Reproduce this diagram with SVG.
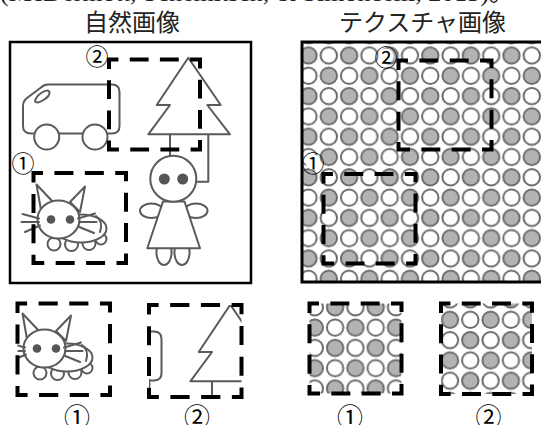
<svg xmlns="http://www.w3.org/2000/svg" xmlns:xlink="http://www.w3.org/1999/xlink" width="541" height="425" viewBox="0 0 541 425">
  <style>
    .frame{fill:#fff;stroke:#000;stroke-width:2.5}
    .art{fill:#fff;stroke:#5a5a5a;stroke-width:2;stroke-linejoin:round;stroke-linecap:round}
    .line{fill:none;stroke:#5a5a5a;stroke-width:2;stroke-linejoin:round;stroke-linecap:round}
    .eye{fill:#555;stroke:none}
    .crop{fill:none;stroke:#000;stroke-width:4;stroke-dasharray:20 12;stroke-dashoffset:10}
    .dg{fill:#b3b3b3;stroke:#6b6b6b;stroke-width:2}
    .dw{fill:#fff;stroke:#6b6b6b;stroke-width:2}
    .title{font-family:"Noto Sans CJK JP","Noto Sans CJK SC",sans-serif;font-size:24px;fill:#222;text-anchor:middle}
    .cite{font-family:"Liberation Serif","Noto Sans CJK JP",serif;font-size:26px;fill:#222}
    .num{font-family:"Noto Sans CJK JP","Noto Sans CJK SC",sans-serif;text-anchor:middle;dominant-baseline:central;fill:#000}
    .badge{fill:#fff;stroke:none}
  </style>
  <defs>
    <!-- checkerboard of grey and white dots, 2x2 cells per tile -->
    <pattern id="dots" patternUnits="userSpaceOnUse" x="298.35" y="45.35" width="40.6" height="40.6">
      <circle cx="10.15" cy="10.15" r="8.2" class="dg"/>
      <circle cx="30.45" cy="10.15" r="8.2" class="dw"/>
      <circle cx="10.15" cy="30.45" r="8.2" class="dw"/>
      <circle cx="30.45" cy="30.45" r="8.2" class="dg"/>
    </pattern>
    <pattern id="dots-1" href="#dots" xlink:href="#dots" x="284.35" y="175.35"/>
    <pattern id="dots-2" href="#dots" xlink:href="#dots" x="338.35" y="289.35"/>

    <clipPath id="clip-n1"><rect x="17.5" y="303.5" width="92.5" height="91.5"/></clipPath>
    <clipPath id="clip-n2"><rect x="149" y="305" width="92.5" height="92"/></clipPath>
    <clipPath id="clip-tex"><rect x="302" y="42" width="250" height="240"/></clipPath>

    <!-- line drawings of the natural scene -->
    <g id="van-art">
      <path class="art" d="M23 126 L23 106 Q23 101 27 98 L41 87.5 Q44 84.5 48 84.5 L112 84.5 Q119.5 84.5 119.5 92 L119.5 126 Q119.5 133.5 112 133.5 L31 133.5 Q23 133.5 23 126 Z"/>
      <path class="art" d="M35 101.5 Q36 96 42 92.5 Q48 89 49.5 92 Q50 96 43.5 100 Q37 104 35 101.5 Z"/>
      <circle class="art" cx="46.7" cy="137" r="12.5"/>
      <circle class="art" cx="95" cy="137" r="12.5"/>
    </g>
    <g id="tree-art">
      <line class="line" x1="170" y1="134.3" x2="170" y2="156"/>
      <polyline class="line" points="208.3,134.3 208.3,181.7 196.5,181.7"/>
      <polygon class="art" points="188.3,57.7 220.7,105 207.3,105 230,134.3 148.3,134.3 170,105 156.7,105"/>
    </g>
    <g id="girl-art">
      <ellipse class="art" cx="164" cy="252" rx="7.6" ry="13"/>
      <ellipse class="art" cx="182" cy="252" rx="7.6" ry="13"/>
      <ellipse class="art" cx="151.5" cy="210.8" rx="11.5" ry="7.3"/>
      <ellipse class="art" cx="196" cy="210.8" rx="11.5" ry="7.3"/>
      <polygon class="art" points="163,201.5 184.5,201.5 200,248.3 147.3,248.3"/>
      <circle class="art" cx="173.3" cy="178.7" r="23"/>
      <circle class="eye" cx="164.3" cy="179" r="5.5"/>
      <circle class="eye" cx="182.7" cy="179" r="5.5"/>
    </g>
    <g id="cat-art">
      <circle class="art" cx="54" cy="244" r="6.5"/>
      <circle class="art" cx="71.5" cy="244.5" r="6.5"/>
      <circle class="art" cx="89" cy="243.5" r="6.5"/>
      <circle class="art" cx="101" cy="239" r="5.5"/>
      <ellipse class="art" cx="81" cy="228.5" rx="25.5" ry="14"/>
      <path class="line" d="M96 216 Q103.5 221 100 232"/>
      <polygon class="art" points="41,210 36.5,184.5 54,203"/>
      <polygon class="art" points="70,202 85,186.5 80,212"/>
      <ellipse class="art" cx="58.5" cy="219.5" rx="21" ry="19"/>
      <circle class="eye" cx="51" cy="219.5" r="4.3"/>
      <circle class="eye" cx="70" cy="219.5" r="4.3"/>
      <path class="line" d="M22.5 214 L39 218.5 M21.5 222 L39 222 M25 232 L40 225.5 M78 218.5 L95 213.5 M79 222 L96.5 222 M78 226.5 L94 233"/>
    </g>
  </defs>

  <!-- citation line, clipped by the top edge -->
  <text class="cite" x="0" y="1">(McDermott, Schemitsch, &amp; Simoncelli, 2013)。</text>

  <!-- natural image panel -->
  <g id="natural-image">
    <text class="title" x="132" y="31">自然画像</text>
    <rect class="frame" x="10" y="42" width="241" height="241"/>
    <use href="#van-art" xlink:href="#van-art"/>
    <use href="#tree-art" xlink:href="#tree-art"/>
    <use href="#girl-art" xlink:href="#girl-art"/>
    <use href="#cat-art" xlink:href="#cat-art"/>
  </g>
  <g id="natural-crop-1-box">
    <rect class="crop" pathLength="384" x="33.5" y="173" width="92.5" height="90"/>
    <circle class="badge" cx="23" cy="162" r="7.5"/>
    <text class="num" x="23" y="162" font-size="23">①</text>
  </g>
  <g id="natural-crop-2-box">
    <rect class="crop" pathLength="384" x="109" y="59.5" width="91" height="90"/>
    <circle class="badge" cx="97" cy="55" r="7.5"/>
    <text class="num" x="97" y="55" font-size="23">②</text>
  </g>

  <!-- texture image panel -->
  <g id="texture-image">
    <text class="title" x="422.5" y="31">テクスチャ画像</text>
    <rect x="302" y="42" width="250" height="240" fill="#fff"/>
    <rect x="302" y="42" width="250" height="240" fill="url(#dots)" clip-path="url(#clip-tex)"/>
    <rect x="302" y="42" width="250" height="240" fill="none" stroke="#000" stroke-width="3"/>
  </g>
  <g id="texture-crop-1-box">
    <rect class="crop" pathLength="384" x="323.5" y="174" width="92" height="89.5"/>
    <circle class="badge" cx="313" cy="162" r="7.5"/>
    <text class="num" x="313" y="162" font-size="23">①</text>
  </g>
  <g id="texture-crop-2-box">
    <rect class="crop" pathLength="384" x="398.5" y="60.5" width="93" height="89"/>
    <circle class="badge" cx="386" cy="56" r="7.5"/>
    <text class="num" x="386" y="56" font-size="23">②</text>
  </g>

  <!-- enlarged crops -->
  <g id="natural-crop-1">
    <g clip-path="url(#clip-n1)">
      <use href="#cat-art" xlink:href="#cat-art" transform="translate(-14 129)"/>
    </g>
    <rect class="crop" pathLength="384" x="17.5" y="303.5" width="92.5" height="91.5"/>
    <text class="num" x="77" y="415" font-size="26">①</text>
  </g>
  <g id="natural-crop-2">
    <g clip-path="url(#clip-n2)">
      <g transform="translate(42 247)">
        <use href="#van-art" xlink:href="#van-art"/>
        <use href="#tree-art" xlink:href="#tree-art"/>
      </g>
    </g>
    <rect class="crop" pathLength="384" x="149" y="305" width="92.5" height="92"/>
    <text class="num" x="197" y="415" font-size="26">②</text>
  </g>
  <g id="texture-crop-1">
    <rect x="309.5" y="303.5" width="92" height="90" fill="url(#dots-1)"/>
    <rect class="crop" pathLength="384" x="309.5" y="303.5" width="92" height="90"/>
    <text class="num" x="350" y="415" font-size="26">①</text>
  </g>
  <g id="texture-crop-2">
    <rect x="441" y="303.5" width="91" height="90.5" fill="url(#dots-2)"/>
    <rect class="crop" pathLength="384" x="441" y="303.5" width="91" height="90.5"/>
    <text class="num" x="488.5" y="415" font-size="26">②</text>
  </g>
</svg>
